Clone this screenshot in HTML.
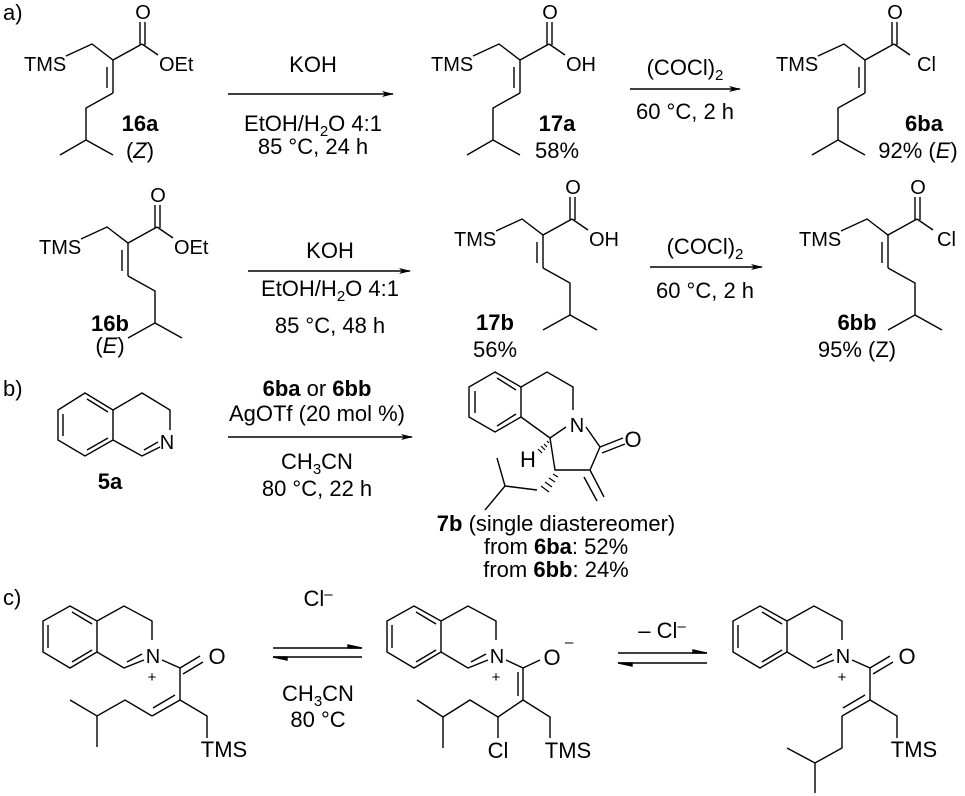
<!DOCTYPE html>
<html><head><meta charset="utf-8"><style>
html,body{margin:0;padding:0;background:#fff;}
svg{display:block;}
text{font-family:"Liberation Sans",Arial,sans-serif;font-size:22px;fill:#000;}
.a{font-size:20px;}
.b{font-weight:bold;}
.s{font-size:15px;}
</style></head><body>
<svg width="965" height="796" viewBox="0 0 965 796" xmlns="http://www.w3.org/2000/svg">
<defs>
<g id="top">
 <polyline points="66,56 92,44 113,60 142,44" fill="none" stroke="#000" stroke-width="1.4"/>
 <line x1="140" y1="45" x2="140" y2="22" stroke="#000" stroke-width="1.4"/>
 <line x1="145" y1="45" x2="145" y2="22" stroke="#000" stroke-width="1.4"/>
 <line x1="142" y1="44" x2="158" y2="55" stroke="#000" stroke-width="1.4"/>
 <line x1="113" y1="60" x2="113" y2="93" stroke="#000" stroke-width="1.4"/>
 <line x1="107" y1="67" x2="107" y2="88" stroke="#000" stroke-width="1.4"/>
 <text x="24" y="71" class="a">TMS</text>
 <text x="143" y="19" text-anchor="middle" class="a">O</text>
</g>
<g id="Z"><polyline points="113,93 86,108 86,140 60,155" fill="none" stroke="#000" stroke-width="1.4"/><line x1="86" y1="140" x2="113" y2="155" stroke="#000" stroke-width="1.4"/></g>
<g id="E"><polyline points="113,93 140,108 140,140 113,155" fill="none" stroke="#000" stroke-width="1.4"/><line x1="140" y1="140" x2="167" y2="155" stroke="#000" stroke-width="1.4"/></g>
<marker id="ah" markerWidth="12" markerHeight="8" refX="11" refY="4" orient="auto" markerUnits="userSpaceOnUse"><path d="M0,1 L12,4 L0,7 L3,4 Z" fill="#000"/></marker>
<g id="dhiq">
 <polygon points="70,606 97,621 97,652 70,668 43,652 43,621" fill="none" stroke="#000" stroke-width="1.4"/>
 <line x1="48" y1="625" x2="48" y2="648" stroke="#000" stroke-width="1.4"/>
 <line x1="72" y1="612" x2="92" y2="624" stroke="#000" stroke-width="1.4"/>
 <line x1="72" y1="662" x2="92" y2="650" stroke="#000" stroke-width="1.4"/>
 <polyline points="97,621 124,606 152,621 152,640" fill="none" stroke="#000" stroke-width="1.4"/>
 <polyline points="97,652 124,668 144,660" fill="none" stroke="#000" stroke-width="1.4"/>
 <line x1="127" y1="662" x2="142" y2="654" stroke="#000" stroke-width="1.4"/>
 <text x="153" y="663" text-anchor="middle" class="a">N</text>
 <text x="152" y="682" text-anchor="middle" class="s">+</text>
</g>
</defs>

<text x="3" y="20">a)</text>
<!-- 16a -->
<use href="#top"/><use href="#Z"/>
<text x="159" y="71" class="a">OEt</text>
<text x="140" y="131" text-anchor="middle" class="b">16a</text>
<text x="140" y="158" text-anchor="middle">(<tspan font-style="italic">Z</tspan>)</text>
<line x1="228" y1="94" x2="393" y2="94" stroke="#000" stroke-width="1.4" marker-end="url(#ah)"/>
<text x="313" y="72" text-anchor="middle">KOH</text>
<text x="313" y="131" text-anchor="middle">EtOH/H<tspan class="s" dy="5">2</tspan><tspan dy="-5">O 4:1</tspan></text>
<text x="313" y="154" text-anchor="middle">85 °C, 24 h</text>
<!-- 17a -->
<g transform="translate(407,0)"><use href="#top"/><use href="#Z"/><text x="159" y="71" class="a">OH</text></g>
<text x="557" y="131" text-anchor="middle" class="b">17a</text>
<text x="557" y="158" text-anchor="middle">58%</text>
<line x1="630" y1="89" x2="740" y2="89" stroke="#000" stroke-width="1.4" marker-end="url(#ah)"/>
<text x="685" y="75" text-anchor="middle">(COCl)<tspan class="s" dy="5">2</tspan></text>
<text x="685" y="119" text-anchor="middle">60 °C, 2 h</text>
<!-- 6ba -->
<g transform="translate(752,0)"><use href="#top"/><use href="#Z"/><text x="165" y="71" class="a">Cl</text></g>
<text x="924" y="131" text-anchor="middle" class="b">6ba</text>
<text x="918" y="158" text-anchor="middle">92% (<tspan font-style="italic">E</tspan>)</text>

<!-- 16b -->
<g transform="translate(15,183)"><use href="#top"/><use href="#E"/><text x="159" y="71" class="a">OEt</text></g>
<text x="110" y="331" text-anchor="middle" class="b">16b</text>
<text x="110" y="353" text-anchor="middle">(<tspan font-style="italic">E</tspan>)</text>
<line x1="248" y1="271" x2="410" y2="271" stroke="#000" stroke-width="1.4" marker-end="url(#ah)"/>
<text x="330" y="258" text-anchor="middle">KOH</text>
<text x="330" y="296" text-anchor="middle">EtOH/H<tspan class="s" dy="5">2</tspan><tspan dy="-5">O 4:1</tspan></text>
<text x="330" y="333" text-anchor="middle">85 °C, 48 h</text>
<!-- 17b -->
<g transform="translate(430,175)"><use href="#top"/><use href="#E"/><text x="159" y="71" class="a">OH</text></g>
<text x="495" y="330" text-anchor="middle" class="b">17b</text>
<text x="495" y="357" text-anchor="middle">56%</text>
<line x1="650" y1="267" x2="762" y2="267" stroke="#000" stroke-width="1.4" marker-end="url(#ah)"/>
<text x="705" y="254" text-anchor="middle">(COCl)<tspan class="s" dy="5">2</tspan></text>
<text x="705" y="298" text-anchor="middle">60 °C, 2 h</text>
<!-- 6bb -->
<g transform="translate(775,175)"><use href="#top"/><use href="#E"/><text x="162" y="71" class="a">Cl</text></g>
<text x="857" y="330" text-anchor="middle" class="b">6bb</text>
<text x="857" y="357" text-anchor="middle">95% (Z)</text>

<!-- b -->
<text x="3" y="396">b)</text>
<g fill="none" stroke="#000" stroke-width="1.4">
 <polygon points="85,393 113,410 113,440 85,456 58,440 58,410"/>
 <line x1="63" y1="414" x2="63" y2="436"/>
 <line x1="87" y1="399" x2="108" y2="412"/>
 <line x1="87" y1="450" x2="108" y2="438"/>
 <polyline points="113,410 142,393 170,410 170,430"/>
 <polyline points="113,440 142,456 160,447"/>
 <line x1="144" y1="450" x2="158" y2="442"/>
</g>
<text x="167" y="449" text-anchor="middle" class="a">N</text>
<text x="110" y="489" text-anchor="middle" class="b">5a</text>
<line x1="228" y1="437" x2="412" y2="437" stroke="#000" stroke-width="1.4" marker-end="url(#ah)"/>
<text x="317" y="396" text-anchor="middle"><tspan class="b">6ba</tspan> or <tspan class="b">6bb</tspan></text>
<text x="317" y="421" text-anchor="middle">AgOTf (20 mol %)</text>
<text x="317" y="469" text-anchor="middle">CH<tspan class="s" dy="5">3</tspan><tspan dy="-5">CN</tspan></text>
<text x="317" y="496" text-anchor="middle">80 °C, 22 h</text>
<!-- 7b -->
<g fill="none" stroke="#000" stroke-width="1.4">
 <polygon points="495,372 521,387 521,417 495,432 469,417 469,387"/>
 <line x1="475" y1="391" x2="475" y2="413"/>
 <line x1="497" y1="378" x2="516" y2="390"/>
 <line x1="497" y1="426" x2="516" y2="414"/>
 <polyline points="521,387 547,372 573,387 573,410"/>
 <polyline points="521,417 550,438 566,427"/>
 <polyline points="586,427 600,447 590,470 555,470 550,438"/>
 <line x1="600" y1="447" x2="623" y2="438"/>
 <line x1="602" y1="453" x2="625" y2="444"/>
 <line x1="590" y1="470" x2="604" y2="497"/>
 <line x1="584" y1="477" x2="597" y2="501"/>
 <polyline points="537,490 505,486 497,458"/>
 <line x1="505" y1="486" x2="485" y2="510"/>
</g>
<g stroke="#000" stroke-width="1.2">
 <line x1="553" y1="474" x2="558" y2="477"/><line x1="549" y1="478" x2="555" y2="482"/><line x1="545" y1="482" x2="552" y2="487"/><line x1="541" y1="486" x2="549" y2="492"/>
 <line x1="547" y1="441" x2="549" y2="443"/><line x1="544" y1="444" x2="547" y2="447"/><line x1="541" y1="446" x2="545" y2="450"/><line x1="538" y1="449" x2="542" y2="453"/>
</g>
<text x="577" y="432" text-anchor="middle" class="a">N</text>
<text x="633" y="447" text-anchor="middle">O</text>
<text x="528" y="467" text-anchor="middle">H</text>
<text x="556" y="531" text-anchor="middle"><tspan class="b">7b</tspan> (single diastereomer)</text>
<text x="556" y="554" text-anchor="middle">from <tspan class="b">6ba</tspan>: 52%</text>
<text x="556" y="577" text-anchor="middle">from <tspan class="b">6bb</tspan>: 24%</text>

<!-- c -->
<text x="3" y="605">c)</text>
<use href="#dhiq"/>
<g fill="none" stroke="#000" stroke-width="1.4">
 <polyline points="162,660 180,668 180,700"/>
 <line x1="180" y1="668" x2="200" y2="656"/><line x1="183" y1="674" x2="203" y2="662"/>
 <line x1="180" y1="700" x2="152" y2="716"/><line x1="175" y1="695" x2="153" y2="708"/>
 <polyline points="152,716 125,700 97,716 70,700"/><line x1="97" y1="716" x2="97" y2="747"/>
 <polyline points="180,700 207,716 207,738"/>
</g>
<text x="217" y="664" text-anchor="middle">O</text>
<text x="224" y="757" text-anchor="middle">TMS</text>
<g stroke="#000" stroke-width="1.4" fill="#000">
 <line x1="273" y1="648" x2="362" y2="648"/><path d="M362,648 L348,645 L348,648 Z"/>
 <line x1="273" y1="657" x2="362" y2="657"/><path d="M273,657 L287,660 L287,657 Z"/>
</g>
<text x="318" y="606" text-anchor="middle">Cl<tspan class="s" dy="-7">–</tspan></text>
<text x="318" y="701" text-anchor="middle">CH<tspan class="s" dy="5">3</tspan><tspan dy="-5">CN</tspan></text>
<text x="318" y="727" text-anchor="middle">80 °C</text>

<g transform="translate(344,0)"><use href="#dhiq"/></g>
<g fill="none" stroke="#000" stroke-width="1.4">
 <polyline points="506,660 523,668 540,660"/>
 <line x1="523" y1="668" x2="523" y2="700"/><line x1="518" y1="672" x2="518" y2="696"/>
 <polyline points="523,700 498,717 470,700 443,717 417,700"/><line x1="443" y1="717" x2="443" y2="748"/>
 <line x1="498" y1="717" x2="498" y2="738"/>
 <polyline points="523,700 550,717 550,738"/>
</g>
<text x="552" y="665" text-anchor="middle">O</text>
<text x="565" y="647" class="s">–</text>
<text x="498" y="758" text-anchor="middle">Cl</text>
<text x="568" y="758" text-anchor="middle">TMS</text>
<g stroke="#000" stroke-width="1.4" fill="#000">
 <line x1="618" y1="653" x2="707" y2="653"/><path d="M707,653 L693,650 L693,653 Z"/>
 <line x1="618" y1="663" x2="707" y2="663"/><path d="M618,663 L632,666 L632,663 Z"/>
</g>
<text x="662" y="638" text-anchor="middle">– Cl<tspan class="s" dy="-7">–</tspan></text>

<g transform="translate(690,0)"><use href="#dhiq"/></g>
<g fill="none" stroke="#000" stroke-width="1.4">
 <polyline points="852,660 870,668 870,700"/>
 <line x1="870" y1="668" x2="890" y2="656"/><line x1="873" y1="674" x2="893" y2="662"/>
 <line x1="870" y1="700" x2="842" y2="716"/><line x1="865" y1="695" x2="843" y2="708"/>
 <polyline points="842,716 842,748 815,763 787,748"/><line x1="815" y1="763" x2="815" y2="793"/>
 <polyline points="870,700 897,716 897,738"/>
</g>
<text x="907" y="664" text-anchor="middle">O</text>
<text x="914" y="757" text-anchor="middle">TMS</text>
</svg>
</body></html>
